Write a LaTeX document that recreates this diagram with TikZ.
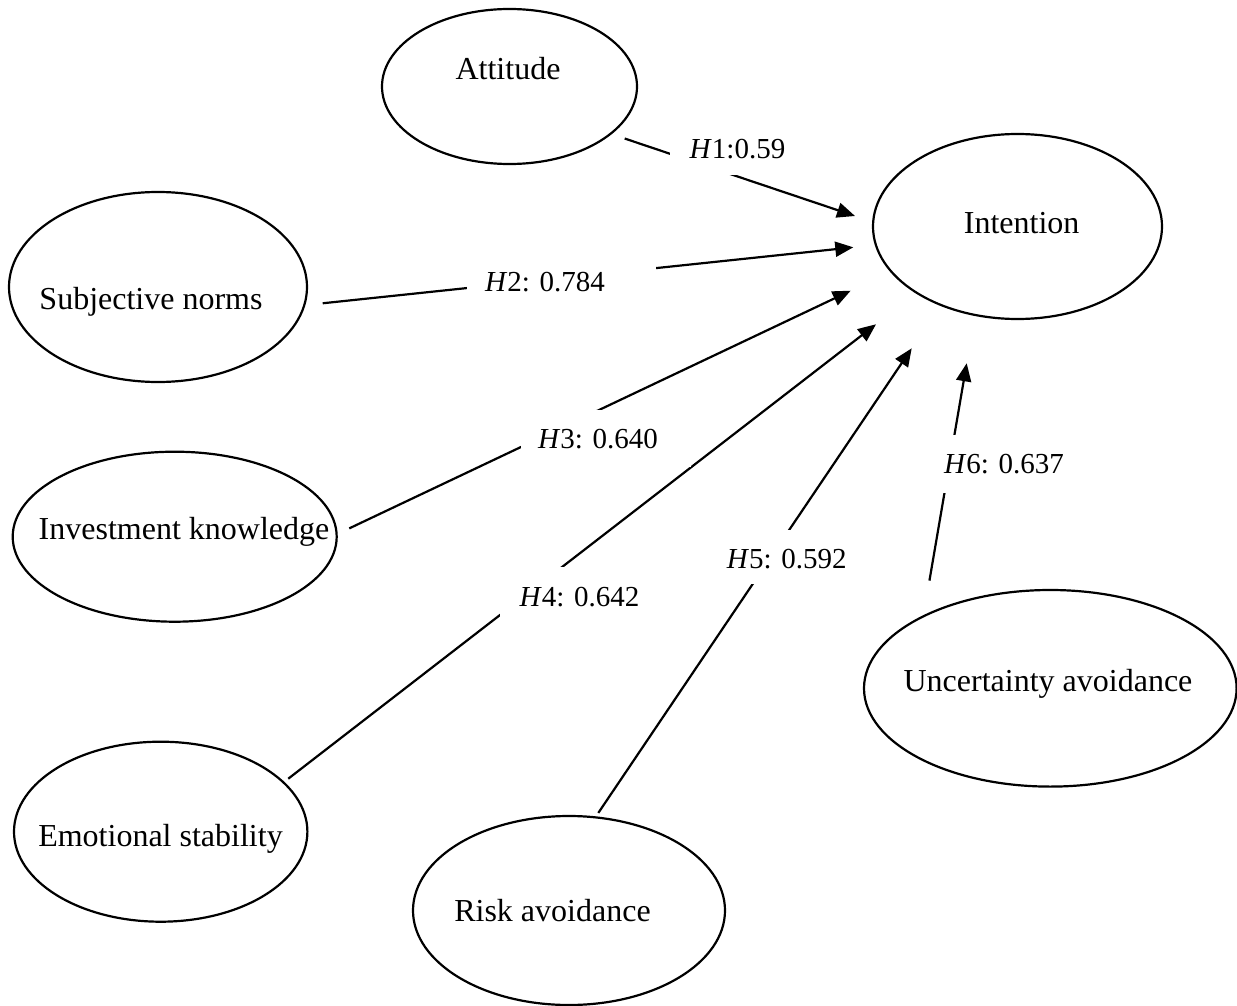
\documentclass[tikz,border=0pt]{standalone}
\usepackage{fontspec}
\setmainfont{Liberation Serif}
\usetikzlibrary{arrows.meta,shapes.geometric}
\begin{document}
\begin{tikzpicture}[x=1pt,y=-1pt,
  ell/.style={draw, line width=2.2pt, ellipse, inner sep=0pt},
  ntext/.style={anchor=base, inner sep=0pt, font=\fontsize{32}{38}\selectfont},
  htext/.style={anchor=base, inner sep=0pt, font=\fontsize{29}{34}\selectfont},
  link/.style={line width=2.2pt, -{Triangle[length=18pt,width=15pt]}},
  gapbox/.style={fill=white}
]
\useasboundingbox (0,0) rectangle (1237,1006);

% ellipses
\node[ell, minimum width=255pt, minimum height=155pt] (att) at (509.5,86.5) {};
\node[ell, minimum width=289pt, minimum height=185pt] (int) at (1017.5,226.5) {};
\node[ell, minimum width=298pt, minimum height=190pt] (sub) at (158,287) {};
\node[ell, minimum width=324pt, minimum height=170pt] (inv) at (174.7,536.7) {};
\node[ell, minimum width=293.4pt, minimum height=180pt] (emo) at (160.7,831.7) {};
\node[ell, minimum width=312pt, minimum height=189pt] (risk) at (569,910.5) {};
\node[ell, minimum width=372.6pt, minimum height=196.6pt] (unc) at (1050.3,688.3) {};

% ellipse texts
\node[ntext] (attT) at (508,79.3) {Attitude};
\node[ntext] (intT) at (1021.7,233.3) {Intention};
\node[ntext] (subT) at (151,309) {Subjective norms};
\node[ntext] (invT) at (184,539.3) {Investment knowledge};
\node[ntext] (emoT) at (160.5,846) {Emotional stability};
\node[ntext] (riskT) at (552.5,921.7) {Risk avoidance};
\node[ntext] (uncT) at (1048,691.7) {Uncertainty avoidance};

% arrow tips (free ends)
\coordinate (t1) at (855,216);
\coordinate (t2) at (853.3,247.3);
\coordinate (t3) at (850.7,290.7);
\coordinate (t4) at (876,324.3);
\coordinate (t5) at (911.7,348.3);
\coordinate (t6) at (966.7,363.3);

% connectors
\draw[link, shorten <=13.7pt] (att.-25.2) -- (t1);
\draw[link, shorten <=17.4pt] (sub.-7.8) -- (t2);
\draw[link, shorten <=12.8pt] (inv.1.5) -- (t3);
\draw[link, shorten <=5pt] (emo.22.1) -- (t4);
\draw[link, shorten <=4.1pt] (risk.74) -- (t5);
\draw[link, shorten <=35pt] (unc.150.6) -- (t6);

% label boxes (white, interrupting the lines)
\fill[gapbox] (670,130) rectangle (790,175);
\fill[gapbox] (467,262) rectangle (656,302);
\fill[gapbox] (521,410) rectangle (691,467);
\fill[gapbox] (500,567) rectangle (650,625);
\fill[gapbox] (720,530) rectangle (855,584);
\fill[gapbox] (935,435) rectangle (1070,493);

% labels
\node[htext] (h1) at (737.5,158.3) {\textit{H}1:0.59};
\node[htext] (h2) at (545,291.7) {\textit{H}2: 0.784};
\node[htext] (h3) at (598,448.3) {\textit{H}3: 0.640};
\node[htext] (h4) at (579.6,606.7) {\textit{H}4: 0.642};
\node[htext] (h5) at (786.7,568.3) {\textit{H}5: 0.592};
\node[htext] (h6) at (1004,473.3) {\textit{H}6: 0.637};
\end{tikzpicture}
\end{document}
